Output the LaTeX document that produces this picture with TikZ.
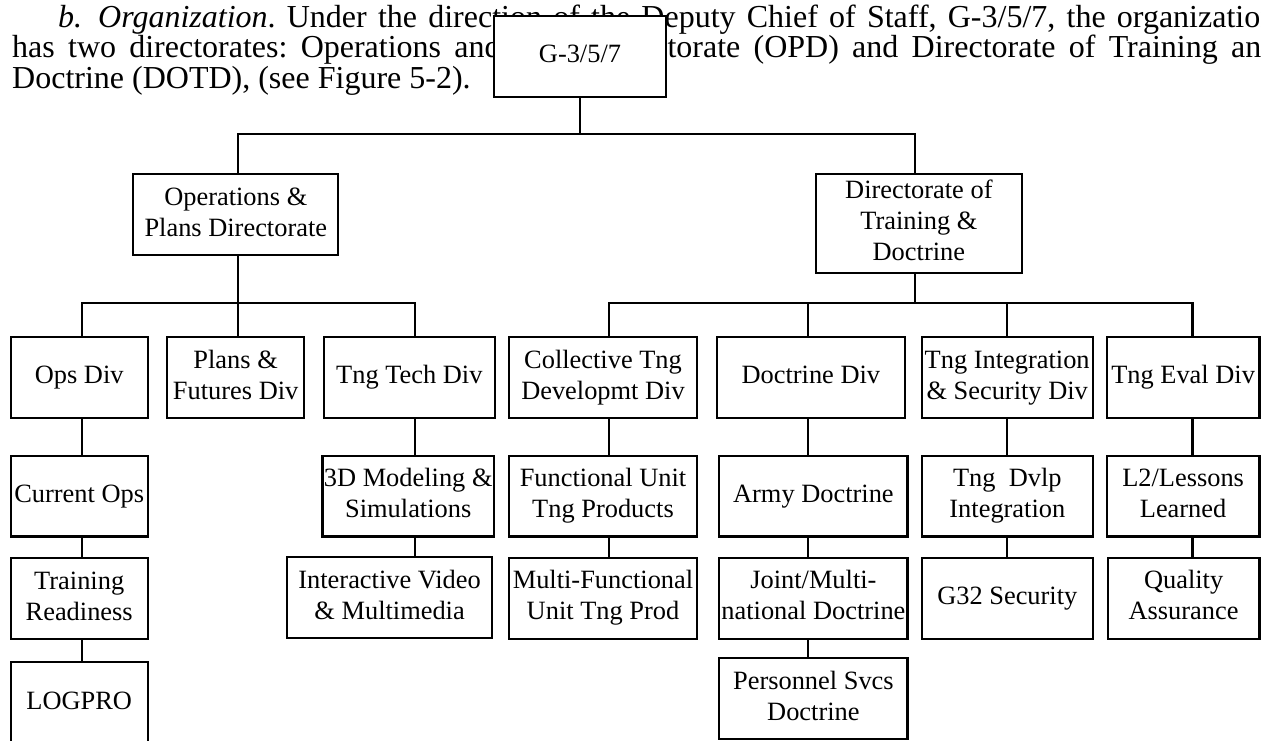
\documentclass[tikz,border=0pt]{standalone}
\usepackage{fontspec}
\setmainfont{Liberation Serif}
\usetikzlibrary{calc}

\newcommand\orgfont{\fontsize{26.4}{31}\selectfont}
\newcommand\bodyfont{\fontsize{32}{36}\selectfont}
% centred multi-line label that may run past the box edges
\newcommand\boxtext[1]{\makebox[0pt]{\begin{tabular}{@{}c@{}}#1\end{tabular}}}
% box given by its left, right, top and bottom edges
\newcommand\orgnode[6]{%
  \node[orgbox, minimum width={(#3)-(#2)}, minimum height={(#5)-(#4)}]
    (#1) at ({((#2)+(#3))/2},{((#4)+(#5))/2}) {\boxtext{#6}};}

\tikzset{
  orgbox/.style={draw, fill=white, line width=2.2pt, inner sep=0pt, font=\orgfont},
  link/.style={line width=2.2pt},
  body/.style={anchor=base west, inner sep=0pt, font=\bodyfont},
}

\begin{document}
\frenchspacing
\begin{tikzpicture}[x=1pt, y=-1pt]
\fill[white] (0,0) rectangle (1261,740);
\clip (0,0) rectangle (1261,740);

% paragraph text behind the chart
\node[body] (bmark) at (58,27) {\textit{b.}};
\node[body] (lineA) at (98,27) {\makebox[1178pt][s]{\textit{Organization}. Under the direction of the Deputy Chief of Staff, G-3/5/7, the organization}};
\node[body] (lineB) at (12,57) {\makebox[1265pt][s]{has two directorates: Operations and Plans Directorate (OPD) and Directorate of Training and}};
\node[body] (lineC) at (12,88) {Doctrine (DOTD), (see Figure 5-2).};

% boxes
\orgnode{g}{494}{666}{15.7}{96.7}{G-3/5/7}
\orgnode{opd}{133.3}{338.3}{173.7}{255}{Operations \&\\Plans Directorate}
\orgnode{dotd}{816}{1021.7}{173.7}{272.7}{Directorate of\\Training \&\\Doctrine}

\orgnode{ops}{10.7}{147.7}{337}{418}{Ops Div}
\orgnode{plans}{167.3}{304}{337}{418}{Plans \&\\Futures Div}
\orgnode{tech}{323.7}{495}{337}{418}{Tng Tech Div}
\orgnode{coll}{509}{697}{337}{418}{Collective Tng\\Developmt Div}
\orgnode{doct}{716.7}{905}{337}{418}{Doctrine Div}
\orgnode{integ}{921.7}{1092.7}{337}{418}{Tng Integration\\\& Security Div}
\orgnode{eval}{1106.7}{1259.5}{337}{418}{Tng Eval Div}

\orgnode{curops}{10.7}{147.7}{455.7}{536.5}{Current Ops}
\orgnode{model}{322.5}{494}{455.7}{536.5}{3D Modeling \&\\Simulations}
\orgnode{func}{509}{697}{455.7}{536.5}{Functional Unit\\Tng Products}
\orgnode{army}{719.3}{907.5}{455.7}{536.5}{Army Doctrine}
\orgnode{dvlp}{921.7}{1093}{455.7}{536.5}{Tng\ \ Dvlp\\Integration}
\orgnode{lessons}{1106.7}{1259.5}{455.7}{536.5}{L2/Lessons\\Learned}

\orgnode{ready}{10.7}{147.7}{557.7}{639}{Training\\Readiness}
\orgnode{video}{287}{492.2}{557}{638}{Interactive Video\\\& Multimedia}
\orgnode{multi}{509}{697}{557.7}{638.7}{Multi-Functional\\Unit Tng Prod}
\orgnode{joint}{719.3}{907.5}{557.7}{638.7}{Joint/Multi-\\national Doctrine}
\orgnode{gsec}{921.7}{1093}{557.7}{638.7}{G32 Security}
\orgnode{qa}{1107.7}{1259.5}{557.7}{638.7}{Quality\\Assurance}

\orgnode{logpro}{10.7}{147.7}{661.7}{745}{LOGPRO}
\orgnode{pers}{719.3}{907.5}{658}{738.8}{Personnel Svcs\\Doctrine}

% connector spines and buses
\coordinate (busA) at (0,134.3);
\coordinate (busB) at (0,302.7);
\coordinate (sOpd) at (238.3,0);
\coordinate (sDotd) at (915,0);
\coordinate (sOps) at (81.7,0);
\coordinate (sTech) at (415,0);
\coordinate (sColl) at (608.7,0);
\coordinate (sDoct) at (807.7,0);
\coordinate (sInteg) at (1007.3,0);
\coordinate (sEval) at (1192.4,0);

\draw[link] (g.south) -- (g.south |- busA);
\draw[link] (opd.north -| sOpd) -- (sOpd |- busA) -- (sDotd |- busA) -- (dotd.north -| sDotd);
\draw[link] (opd.south -| sOpd) -- (plans.north -| sOpd);
\draw[link] (ops.north -| sOps) -- (sOps |- busB) -- (sTech |- busB) -- (tech.north -| sTech);
\draw[link] (dotd.south -| sDotd) -- (sDotd |- busB);
\draw[link] (coll.north -| sColl) -- (sColl |- busB) -- (sEval |- busB) -- (eval.north -| sEval);
\draw[link] (doct.north -| sDoct) -- (sDoct |- busB);
\draw[link] (integ.north -| sInteg) -- (sInteg |- busB);

\draw[link] (ops.south -| sOps) -- (curops.north -| sOps);
\draw[link] (curops.south -| sOps) -- (ready.north -| sOps);
\draw[link] (ready.south -| sOps) -- (logpro.north -| sOps);
\draw[link] (tech.south -| sTech) -- (model.north -| sTech);
\draw[link] (model.south -| sTech) -- (video.north -| sTech);
\draw[link] (coll.south -| sColl) -- (func.north -| sColl);
\draw[link] (func.south -| sColl) -- (multi.north -| sColl);
\draw[link] (doct.south -| sDoct) -- (army.north -| sDoct);
\draw[link] (army.south -| sDoct) -- (joint.north -| sDoct);
\draw[link] (joint.south -| sDoct) -- (pers.north -| sDoct);
\draw[link] (integ.south -| sInteg) -- (dvlp.north -| sInteg);
\draw[link] (dvlp.south -| sInteg) -- (gsec.north -| sInteg);
\draw[link] (eval.south -| sEval) -- (lessons.north -| sEval);
\draw[link] (lessons.south -| sEval) -- (qa.north -| sEval);
\end{tikzpicture}
\end{document}
